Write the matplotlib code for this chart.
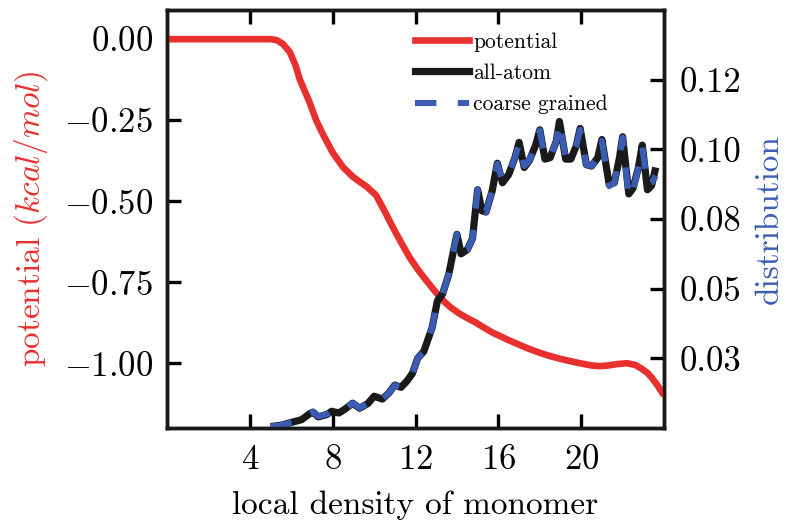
import matplotlib
matplotlib.use("Agg")
import matplotlib.pyplot as plt
from matplotlib.lines import Line2D

plt.rcParams['font.family'] = 'serif'
plt.rcParams['font.serif'] = ['cmr10', 'DejaVu Serif']
plt.rcParams['mathtext.fontset'] = 'cm'
plt.rcParams['axes.formatter.use_mathtext'] = True
plt.rcParams['axes.unicode_minus'] = True

# ---------------- data ----------------
pot_x = [0, 1, 2, 3, 4, 5, 5.3, 5.6, 5.93, 6.2, 6.41, 6.65, 6.89, 7.2, 7.5, 8.0, 8.5,
         8.96, 9.3, 9.64, 10.1, 10.5, 10.9, 11.3, 11.7, 12.1, 12.5, 12.9, 13.3, 13.7,
         14.1, 14.5, 14.9, 15.3, 15.7, 16.1, 16.5, 16.9, 17.3, 17.7, 18.1, 18.5, 18.9,
         19.3, 19.7, 20.1, 20.5, 20.9, 21.3, 21.7, 22.2, 22.6, 22.9, 23.2, 23.4, 23.7, 24.0]
pot_y = [0, 0, 0, 0, 0, 0, -0.003, -0.015, -0.04, -0.08, -0.124, -0.16, -0.196, -0.25,
         -0.29, -0.35, -0.395, -0.424, -0.44, -0.455, -0.482, -0.53, -0.58, -0.627,
         -0.672, -0.71, -0.743, -0.775, -0.805, -0.828, -0.846, -0.861, -0.874, -0.89,
         -0.905, -0.917, -0.929, -0.94, -0.951, -0.961, -0.97, -0.978, -0.985, -0.991,
         -0.997, -1.002, -1.007, -1.009, -1.007, -1.003, -1.00, -1.005, -1.016, -1.03,
         -1.044, -1.07, -1.10]

dist_x = [5.0, 5.5, 6.0, 6.5, 6.9, 7.05, 7.3, 7.7, 7.95, 8.3, 8.6, 8.96, 9.3, 9.7, 10.0,
          10.4, 10.7, 11.0, 11.3, 11.6, 11.85, 12.1, 12.4, 12.8, 13.06, 13.3, 13.6, 13.9,
          14.0, 14.2, 14.5, 14.75, 15.0, 15.2, 15.4, 15.7, 15.95, 16.2, 16.5, 16.8, 17.0,
          17.25, 17.5, 17.8, 18.0, 18.25, 18.5, 18.8, 18.95, 19.25, 19.5, 19.75, 19.95,
          20.25, 20.5, 20.8, 21.0, 21.35, 21.6, 21.85, 22.0, 22.3, 22.5, 22.75, 22.95,
          23.2, 23.4, 23.6]
allatom = [0.0005, 0.001, 0.002, 0.003, 0.0052, 0.0057, 0.004, 0.0048, 0.006, 0.0054,
           0.0068, 0.0089, 0.0071, 0.0088, 0.0114, 0.0104, 0.0125, 0.0154, 0.0146, 0.017,
           0.0196, 0.025, 0.0275, 0.036, 0.0457, 0.048, 0.055, 0.066, 0.0695, 0.0625,
           0.064, 0.068, 0.0855, 0.078, 0.0775, 0.085, 0.095, 0.088, 0.091, 0.097, 0.1025,
           0.0935, 0.096, 0.1015, 0.107, 0.0965, 0.097, 0.103, 0.110, 0.0965, 0.0965,
           0.101, 0.1075, 0.0945, 0.094, 0.097, 0.1035, 0.0875, 0.088, 0.097, 0.1045,
           0.084, 0.086, 0.093, 0.1015, 0.0855, 0.087, 0.0935]
coarse = [0.0005, 0.001, 0.002, 0.003, 0.0053, 0.0058, 0.0042, 0.0049, 0.006, 0.0055,
          0.0069, 0.0089, 0.0072, 0.0088, 0.0113, 0.0105, 0.0125, 0.0153, 0.0147, 0.017,
          0.0195, 0.025, 0.0275, 0.036, 0.0455, 0.048, 0.055, 0.066, 0.0695, 0.063,
          0.064, 0.068, 0.0855, 0.0785, 0.0775, 0.085, 0.0948, 0.0885, 0.091, 0.097, 0.1022,
          0.094, 0.096, 0.1015, 0.1068, 0.0968, 0.097, 0.103, 0.1098, 0.097, 0.0965,
          0.101, 0.107, 0.0945, 0.094, 0.097, 0.103, 0.0868, 0.088, 0.097, 0.1042,
          0.0825, 0.085, 0.093, 0.101, 0.087, 0.088, 0.0905]

x_ticks = [4, 8, 12, 16, 20]
pot_ticks = [0.0, -0.25, -0.5, -0.75, -1.0]
dist_ticks = [0.025, 0.05, 0.075, 0.10, 0.125]
dist_ticklabels = ['0.03', '0.05', '0.08', '0.10', '0.12']

RED = '#e8302e'
BLUE = '#3a5cb4'
BLACK = '#1a1a1a'

fig = plt.figure(figsize=(7.89, 5.23), dpi=100)
ax = fig.add_axes([0.2117, 0.1816, 0.6299, 0.7993])
ax2 = ax.twinx()

ax.plot(pot_x, pot_y, color=RED, lw=4.8, solid_capstyle='butt',
        solid_joinstyle='round', zorder=3)
ax2.plot(dist_x, allatom, color=BLACK, lw=5.2, solid_joinstyle='round',
         solid_capstyle='butt')
ax2.plot(dist_x, coarse, color=BLUE, lw=4.4, dashes=(3.5, 3.5),
         dash_joinstyle='round')

ax.set_xlim(0, 24)
ax.set_ylim(-1.2, 0.09)
ax2.set_ylim(0, 0.15)

ax.set_xticks(x_ticks)
ax.set_yticks(pot_ticks)
ax2.set_yticks(dist_ticks)
ax2.set_yticklabels(dist_ticklabels)

ax.tick_params(axis='both', direction='in', length=10, width=2.4, labelsize=25,
               top=True, right=False, pad=10)
ax.tick_params(axis='x', pad=12)
ax2.tick_params(axis='y', direction='in', length=10, width=2.4, labelsize=25, pad=11)
for a in (ax, ax2):
    for s in a.spines.values():
        s.set_linewidth(2.5)
        s.set_color(BLACK)

ax.set_xlabel('local density of monomer', fontsize=24, labelpad=10)
ax.set_ylabel('potential $(kcal/mol)$', fontsize=24, color=RED, labelpad=10)
ax2.set_ylabel('distribution', fontsize=24, color=BLUE, labelpad=10)

handles = [Line2D([], [], color=RED, lw=4.8),
           Line2D([], [], color=BLACK, lw=5.2),
           Line2D([], [], color=BLUE, lw=4.4, dashes=(3.5, 3.5))]
ax.legend(handles, ['potential', 'all-atom', 'coarse grained'], loc='upper left',
          bbox_to_anchor=(0.515, 0.955), bbox_transform=fig.transFigure,
          frameon=False, fontsize=15.5, handlelength=2.5, handletextpad=0.2,
          labelspacing=0.55, borderaxespad=0)

fig.savefig('out.png', dpi=100)
